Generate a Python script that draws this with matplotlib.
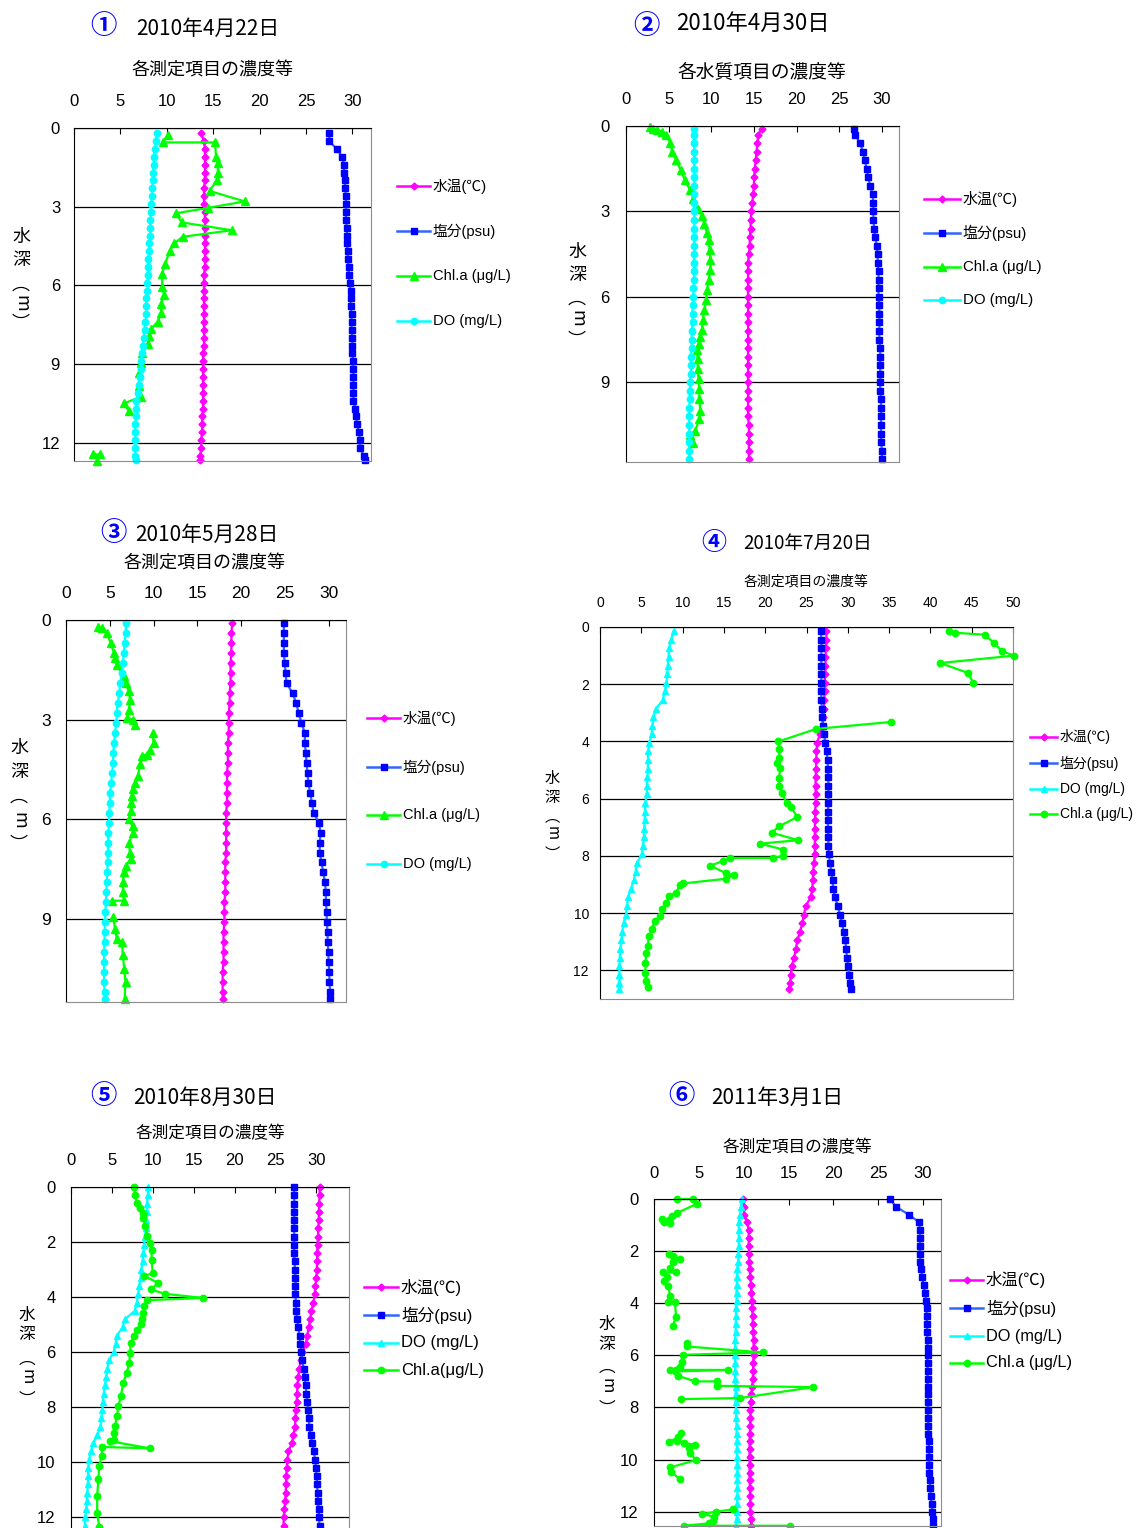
import matplotlib
matplotlib.use('Agg')
from matplotlib import pyplot
from matplotlib.lines import Line2D

nan = float('nan')
W, H = 1138, 1528
JP = ['Noto Sans CJK JP']
LAT = ['Liberation Sans', 'Noto Sans CJK JP']
pyplot.rcParams['font.family'] = LAT

# ---- 2010/4/22 ----
depth1 = [0.2, 0.5, 0.8, 1.1, 1.4, 1.7, 2.0, 2.3, 2.6, 2.9, 3.2, 3.5, 3.8, 4.1, 4.4, 4.7, 5.0, 5.3, 5.6, 5.9,
          6.2, 6.5, 6.8, 7.1, 7.4, 7.7, 8.0, 8.3, 8.6, 8.9, 9.2, 9.5, 9.8, 10.1, 10.4, 10.7, 11.0, 11.3, 11.6, 11.9,
          12.2, 12.5, 12.65]
temp1 = [13.7, 14.0, 14.1, 14.1, 14.1, 14.1, 14.1, 14.0, 14.0, 14.0, 14.1, 14.1, 14.1, 14.1, 14.1, 14.1, 14.1, 14.1, 14.0, 14.0,
         14.0, 14.0, 14.0, 14.0, 14.0, 14.0, 14.0, 14.0, 13.9, 13.9, 13.9, 13.9, 13.9, 13.9, 13.9, 13.9, 13.8, 13.8, 13.8, 13.7,
         13.7, 13.6, 13.6]
sal1 = [27.5, 27.5, 28.3, 28.9, 29.1, 29.1, 29.2, 29.2, 29.3, 29.3, 29.3, 29.3, 29.4, 29.4, 29.4, 29.5, 29.5, 29.6, 29.6, 29.7,
        29.8, 29.8, 29.8, 29.9, 29.9, 29.9, 30.0, 30.0, 30.0, 30.1, 30.1, 30.1, 30.1, 30.1, 30.1, 30.3, 30.4, 30.5, 30.7, 30.8,
        30.8, 31.2, 31.4]
do1 = [8.9, 8.8, 8.7, 8.6, 8.6, 8.5, 8.5, 8.4, 8.4, 8.3, 8.3, 8.2, 8.2, 8.2, 8.1, 8.1, 8.0, 8.0, 8.0, 7.9,
       7.9, 7.8, 7.8, 7.8, 7.7, 7.6, 7.5, 7.4, 7.3, 7.2, 7.2, 7.1, 7.0, 6.9, 6.7, 6.7, 6.7, 6.6, 6.6, 6.6,
       6.6, 6.6, 6.7]
chl1_depth = [0.25, 0.55, 0.55, 1.1, 1.35, 1.7, 2.0, 2.4, 2.8, 3.05, 3.25, 3.6, 3.9, 4.15, 4.4, 4.7, 5.2, 5.55, 6.05, 6.35,
              6.7, 7.05, 7.4, 7.65, 7.95, 8.25, 8.6, 8.95, 9.35, 9.85, 10.25, 10.5, 10.8, nan, 12.45, 12.45, 12.7]
chl1 = [10.1, 9.6, 15.2, 15.3, 15.5, 15.5, 15.4, 14.6, 18.4, 14.4, 11.0, 11.6, 17.0, 11.7, 10.8, 10.3, 9.8, 9.5, 9.5, 9.7,
        9.4, 9.4, 9.0, 8.3, 8.1, 8.0, 7.3, 7.2, 7.0, 7.0, 7.2, 5.4, 5.9, nan, 2.0, 2.8, 2.5]

# ---- 2010/4/30 ----
depth2 = [0.1, 0.3, 0.6, 0.9, 1.2, 1.5, 1.8, 2.1, 2.4, 2.7, 3.0, 3.3, 3.6, 3.9, 4.2, 4.5, 4.8, 5.1, 5.4, 5.7,
          6.0, 6.3, 6.6, 6.9, 7.2, 7.5, 7.8, 8.1, 8.4, 8.7, 9.0, 9.3, 9.6, 9.9, 10.2, 10.5, 10.8, 11.1, 11.4, 11.7]
temp2 = [15.9, 15.5, 15.4, 15.3, 15.2, 15.1, 15.0, 15.0, 14.9, 14.8, 14.7, 14.6, 14.6, 14.5, 14.5, 14.4, 14.3, 14.3, 14.3, 14.3,
         14.3, 14.3, 14.3, 14.3, 14.3, 14.3, 14.3, 14.3, 14.3, 14.3, 14.3, 14.3, 14.3, 14.3, 14.3, 14.4, 14.4, 14.4, 14.4, 14.4]
sal2 = [26.7, 26.9, 27.4, 27.8, 28.0, 28.2, 28.4, 28.6, 28.9, 29.0, 29.0, 29.0, 29.1, 29.2, 29.4, 29.5, 29.5, 29.6, 29.6, 29.6,
        29.6, 29.7, 29.7, 29.7, 29.7, 29.7, 29.8, 29.8, 29.8, 29.8, 29.8, 29.8, 29.9, 29.9, 29.9, 29.9, 29.9, 29.9, 30.0, 30.0]
do2 = [8.0, 8.0, 8.0, 8.0, 8.0, 8.0, 8.0, 8.0, 8.0, 8.0, 8.0, 8.0, 8.0, 8.0, 8.0, 8.0, 8.0, 8.0, 8.0, 7.9,
       7.9, 7.8, 7.8, 7.8, 7.7, 7.7, 7.7, 7.6, 7.6, 7.6, 7.5, 7.5, 7.5, 7.4, 7.4, 7.4, 7.4, 7.4, 7.4, 7.4]
chl2_depth = [0.05, 0.1, 0.15, 0.2, 0.3, 0.6, 0.9, 1.2, 1.55, 1.9, 2.25, 2.55, 2.9, 3.15, 3.45, 3.75, 4.0, 4.35, 4.7, 5.05,
              5.4, 5.75, 6.1, 6.45, 6.8, 7.15, 7.4, 7.65, 7.85, 8.2, 8.55, 8.9, 9.25, 9.6, 10.0, 10.3, 10.7, 10.85, 11.15]
chl2 = [2.85, 3.2, 3.6, 4.2, 4.7, 5.2, 5.4, 5.9, 6.4, 6.9, 7.5, 7.9, 8.4, 8.9, 9.2, 9.5, 9.7, 9.8, 9.9, 9.9,
        9.7, 9.5, 9.4, 9.2, 9.0, 8.9, 8.7, 8.5, 8.3, 8.4, 8.4, 8.5, 8.6, 8.6, 8.7, 8.6, 8.1, 7.5, 7.9]

# ---- 2010/5/28 ----
depth3 = [0.1, 0.4, 0.7, 1.0, 1.3, 1.6, 1.9, 2.2, 2.5, 2.8, 3.1, 3.4, 3.7, 4.0, 4.3, 4.6, 4.9, 5.2, 5.5, 5.8,
          6.1, 6.4, 6.7, 7.0, 7.3, 7.6, 7.9, 8.2, 8.5, 8.8, 9.1, 9.4, 9.7, 10.0, 10.3, 10.6, 10.9, 11.2, 11.4]
temp3 = [19.0, 18.9, 18.9, 18.9, 18.8, 18.8, 18.8, 18.7, 18.7, 18.6, 18.6, 18.6, 18.5, 18.5, 18.5, 18.4, 18.4, 18.4, 18.4, 18.3,
         18.3, 18.3, 18.3, 18.3, 18.2, 18.2, 18.2, 18.2, 18.1, 18.1, 18.1, 18.0, 18.0, 18.0, 18.0, 17.9, 17.9, 17.9, 17.9]
sal3 = [24.9, 24.9, 24.9, 24.9, 25.0, 25.1, 25.2, 25.9, 26.3, 26.6, 26.9, 27.3, 27.3, 27.4, 27.5, 27.6, 27.7, 27.9, 28.1, 28.3,
        28.9, 29.1, 29.0, 29.0, 29.2, 29.4, 29.6, 29.7, 29.7, 29.8, 29.8, 29.9, 29.9, 30.0, 30.0, 30.1, 30.1, 30.2, 30.2]
do3 = [6.9, 6.8, 6.7, 6.6, 6.5, 6.4, 6.2, 6.1, 5.9, 5.8, 5.75, 5.6, 5.5, 5.4, 5.35, 5.3, 5.15, 5.05, 5.0, 4.95,
       4.9, 4.85, 4.8, 4.8, 4.75, 4.7, 4.65, 4.6, 4.55, 4.5, 4.45, 4.4, 4.4, 4.35, 4.35, 4.35, 4.35, 4.4, 4.4]
chl3_depth = [0.2, 0.25, 0.4, 0.7, 1.0, 1.15, 1.35, 1.7, 1.9, 2.15, 2.4, 2.7, 2.95, 3.0, 3.15, nan, 3.4, 3.7, 3.9, 4.05,
              4.1, 4.35, 4.7, 4.9, 5.1, 5.3, 5.5, 5.75, 6.0, 6.2, 6.4, 6.7, 7.0, 7.2, 7.4, 7.6, 7.9, 8.2, 8.45, 8.45,
              nan, 8.95, 9.3, 9.6, 9.7, 10.1, 10.5, 10.9, 11.4]
chl3 = [3.7, 4.1, 4.7, 5.1, 5.5, 5.6, 5.8, 6.6, 6.8, 7.2, 7.3, 7.2, 7.0, 7.7, 7.9, nan, 9.9, 10.0, 9.6, 9.2,
        8.7, 8.5, 8.2, 7.9, 7.7, 7.5, 7.4, 7.4, 7.2, 7.6, 7.65, 7.2, 7.3, 7.4, 6.8, 6.6, 6.5, 6.5, 6.6, 5.25,
        nan, 5.4, 5.6, 5.8, 6.4, 6.5, 6.65, 6.8, 6.7]

# ---- 2010/7/20 ----
depth4 = [0.15, 0.45, 0.75, 1.05, 1.35, 1.65, 1.95, 2.25, 2.55, 2.85, 3.15, 3.45, 3.75, 4.05, 4.35, 4.65, 4.95, 5.25, 5.55, 5.85,
          6.15, 6.45, 6.75, 7.05, 7.35, 7.65, 7.95, 8.25, 8.55, 8.85, 9.15, 9.45, 9.75, 10.05, 10.35, 10.65, 10.95, 11.25, 11.55, 11.85,
          12.15, 12.45, 12.65]
temp4 = [27.4, 27.4, 27.35, 27.3, 27.3, 27.25, 27.2, 27.2, 27.15, 27.1, 27.05, 26.95, 26.6, 26.3, 26.2, 26.2, 26.15, 26.1, 26.1, 26.1,
         26.1, 26.05, 26.05, 26.0, 26.0, 26.0, 26.0, 25.9, 25.8, 25.75, 25.7, 25.5, 24.9, 24.7, 24.5, 24.2, 23.9, 23.7, 23.5, 23.2,
         23.1, 23.0, 22.9]
sal4 = [26.75, 26.8, 26.8, 26.8, 26.8, 26.8, 26.8, 26.8, 26.8, 26.85, 26.9, 26.95, 27.1, 27.3, 27.45, 27.55, 27.6, 27.65, 27.65, 27.65,
        27.65, 27.6, 27.6, 27.6, 27.65, 27.65, 27.7, 27.85, 28.0, 28.15, 28.25, 28.45, 28.8, 29.05, 29.3, 29.5, 29.7, 29.8, 29.9, 30.05,
        30.15, 30.3, 30.4]
do4 = [8.9, 8.6, 8.35, 8.3, 8.2, 8.15, 8.05, 7.85, 7.6, 6.8, 6.45, 6.35, 6.25, 5.95, 5.85, 5.8, 5.8, 5.75, 5.7, 5.65,
       5.5, 5.45, 5.4, 5.35, 5.3, 5.2, 5.05, 4.45, 4.3, 4.1, 3.75, 3.4, 3.25, 3.15, 2.85, 2.7, 2.6, 2.45, 2.4, 2.35,
       2.35, 2.35, 2.35]
chl4_depth = [0.13, 0.2, 0.27, 0.55, 0.85, 1.0, 1.26, 1.6, 1.95, nan, 3.32, 3.56, 4.0, 4.28, 4.57, 4.77, 4.92, 5.27, 5.56, 5.8,
              6.15, 6.29, 6.64, 6.96, 7.19, 7.45, 7.57, 7.78, 8.01, 8.07, 8.07, 8.18, 8.34, 8.61, 8.68, 8.8, 8.96, 9.0, 9.29, 9.41,
              9.64, 9.87, 10.1, 10.28, 10.57, 10.8, 11.15, 11.39, 11.73, 12.08, 12.37, 12.57]
chl4 = [42.3, 43.0, 46.6, 47.65, 48.7, 50.1, 41.2, 44.5, 45.2, nan, 35.2, 26.2, 21.6, 21.7, 21.7, 21.45, 21.8, 21.7, 21.7, 22.0,
        22.6, 23.1, 23.9, 21.7, 20.8, 24.0, 19.4, 22.2, 22.2, 20.9, 15.7, 14.9, 13.35, 15.3, 16.2, 15.2, 10.1, 9.7, 9.2, 8.4,
        8.0, 7.5, 7.3, 6.6, 6.3, 5.9, 5.8, 5.6, 5.5, 5.5, 5.6, 5.8]

# ---- 2010/8/30 ----
depth5 = [0.0, 0.3, 0.6, 0.9, 1.2, 1.5, 1.8, 2.1, 2.4, 2.7, 3.0, 3.3, 3.6, 3.9, 4.2, 4.5, 4.8, 5.1, 5.4, 5.7,
          6.0, 6.3, 6.6, 6.9, 7.2, 7.5, 7.8, 8.1, 8.4, 8.7, 9.0, 9.3, 9.6, 9.9, 10.2, 10.5, 10.8, 11.1, 11.4, 11.7,
          12.0, 12.3, 12.6]
temp5 = [30.4, 30.4, 30.35, 30.3, 30.3, 30.25, 30.2, 30.15, 30.1, 30.1, 30.05, 30.0, 29.9, 29.8, 29.65, 29.4, 29.25, 29.05, 28.9, 28.7,
         28.3, 28.1, 27.9, 27.8, 27.7, 27.65, 27.6, 27.5, 27.45, 27.4, 27.2, 27.0, 26.6, 26.45, 26.4, 26.3, 26.3, 26.25, 26.2, 26.1,
         26.0, 26.0, 25.95]
sal5 = [27.3, 27.3, 27.3, 27.3, 27.3, 27.3, 27.3, 27.3, 27.3, 27.35, 27.4, 27.45, 27.45, 27.45, 27.5, 27.55, 27.65, 27.8, 27.95, 28.05,
        28.15, 28.3, 28.45, 28.6, 28.7, 28.8, 28.9, 29.0, 29.1, 29.15, 29.3, 29.5, 29.7, 29.85, 29.95, 30.05, 30.1, 30.15, 30.2, 30.3,
        30.35, 30.4, 30.45]
do5 = [9.45, 9.4, 9.3, 9.3, 9.2, 9.15, 9.05, 8.95, 8.85, 8.75, 8.6, 8.5, 8.35, 8.2, 8.05, 7.8, 6.6, 6.3, 5.6, 5.45,
       5.2, 4.6, 4.45, 4.3, 4.15, 4.0, 3.9, 3.85, 3.7, 3.6, 3.2, 2.75, 2.45, 2.2, 2.1, 2.1, 2.05, 2.0, 1.95, 1.85,
       1.75, 1.7, 1.6]
chl5_depth = [0.0, 0.28, 0.58, 0.76, 0.94, 1.12, 1.43, 1.79, 2.03, 2.27, 2.64, 3.12, 3.24, 3.48, 3.72, 3.88, 4.03, 4.11, 4.33, 4.57,
              4.81, 4.99, 5.18, 5.42, 5.66, 6.02, 6.38, 6.75, 7.11, 7.59, 7.96, 8.32, 8.68, 8.92, 9.17, 9.23, 9.49, 9.44, 9.77, 10.13,
              10.62, 11.22, 11.83, 12.35, 12.6]
chl5 = [7.75, 7.85, 8.05, 8.45, 8.8, 8.8, 9.1, 9.35, 9.65, 9.85, 9.85, 10.0, 8.95, 10.7, 9.75, 11.5, 16.2, 9.25, 8.95, 8.8,
        8.65, 8.55, 8.05, 7.65, 7.35, 7.2, 7.15, 6.8, 6.4, 6.1, 5.8, 5.6, 5.4, 5.2, 5.2, 4.8, 9.65, 3.8, 3.75, 3.45,
        3.35, 3.2, 3.2, 3.45, 3.55]

# ---- 2011/3/1 ----
depth6 = [0.0, 0.3, 0.6, 0.9, 1.2, 1.5, 1.8, 2.1, 2.4, 2.7, 3.0, 3.3, 3.6, 3.9, 4.2, 4.5, 4.8, 5.1, 5.4, 5.7,
          6.0, 6.3, 6.6, 6.9, 7.2, 7.5, 7.8, 8.1, 8.4, 8.7, 9.0, 9.3, 9.6, 9.9, 10.2, 10.5, 10.8, 11.1, 11.4, 11.7,
          12.0, 12.3, 12.55]
temp6 = [9.9, 10.05, 10.05, 10.4, 10.55, 10.55, 10.55, 10.6, 10.6, 10.65, 10.75, 10.8, 10.85, 10.9, 10.95, 11.0, 11.0, 11.05, 11.1, 11.1,
         11.1, 11.05, 11.05, 11.0, 10.95, 10.85, 10.8, 10.75, 10.75, 10.7, 10.7, 10.65, 10.65, 10.65, 10.65, 10.65, 10.65, 10.7, 10.7, 10.75,
         10.75, 10.8, 10.85]
sal6 = [26.3, 27.0, 28.4, 29.6, 29.65, 29.65, 29.65, 29.65, 29.7, 29.8, 29.9, 30.05, 30.2, 30.35, 30.4, 30.4, 30.45, 30.45, 30.5, 30.5,
        30.5, 30.5, 30.5, 30.5, 30.5, 30.55, 30.55, 30.55, 30.55, 30.6, 30.6, 30.65, 30.65, 30.7, 30.7, 30.7, 30.75, 30.8, 30.85, 30.95,
        31.05, 31.1, 31.15]
do6 = [9.8, 9.7, 9.6, 9.45, 9.45, 9.45, 9.45, 9.4, 9.4, 9.3, 9.25, 9.25, 9.2, 9.2, 9.15, 9.15, 9.1, 9.1, 9.05, 9.05,
       9.05, 9.05, 9.05, 9.05, 9.1, 9.1, 9.1, 9.15, 9.15, 9.2, 9.2, 9.25, 9.25, 9.25, 9.3, 9.3, 9.3, 9.3, 9.3, 9.25,
       9.25, 9.2, 9.15]
chl6_depth = [0.0, 0.0, 0.18, 0.54, 0.67, 0.8, 0.77, 0.9, 0.92, nan,
              2.1, 2.2, 2.3, 2.43, 2.65, 2.82, 2.82, 3.0, 3.16, 3.35, 3.74, 3.97, 3.97, 4.51, 4.87, nan,
              5.53, 5.66, 5.89, 5.98, 6.27, 6.43, 6.56, 6.56, 6.62, 6.79, 7.0, 7.0, 7.17, 7.22, 7.64, 7.68, nan,
              8.99, 9.15, 9.31, 9.27, 9.35, 9.44, 9.57, 9.76, 10.02, 10.3, 10.46, 10.76, nan,
              11.91, 12.0, 12.09, 12.19, 12.37, 12.45, 12.54, 12.54]
chl6 = [2.6, 4.4, 4.8, 2.55, 2.0, 1.7, 0.85, 1.1, 1.8, nan,
        1.7, 2.15, 2.85, 2.1, 1.8, 2.45, 1.05, 1.5, 1.1, 1.6, 1.8, 1.6, 2.35, 2.45, 2.1, nan,
        3.65, 3.65, 12.2, 3.2, 3.1, 2.85, 1.8, 8.2, 2.35, 2.7, 4.6, 7.0, 7.0, 17.75, 9.6, 3.0, nan,
        3.0, 2.7, 1.7, 2.6, 3.3, 4.6, 3.95, 4.0, 4.7, 1.8, 1.95, 2.85, nan,
        8.8, 6.95, 5.35, 6.7, 6.55, 6.1, 3.3, 15.2]

# marker / line styles
TEMP = dict(color='#FF00FF', marker='D', ms=3.5, mfc='#FF00FF', mec='#FF00FF')
SAL = dict(color='#3366FF', marker='s', ms=4.6, mfc='#0000FF', mec='#0000FF')
CHL_TRI = dict(color='#00FF00', marker='^', ms=5.5, mfc='#00FF00', mec='#00FF00')
CHL_DOT = dict(color='#00FF00', marker='o', ms=4.6, mfc='#00FF00', mec='#00FF00')
DO_DOT = dict(color='#00FFFF', marker='o', ms=4.6, mfc='#00FFFF', mec='#00FFFF')
DO_TRI = dict(color='#00FFFF', marker='^', ms=5, mfc='#00FFFF', mec='#00FFFF')

fig = pyplot.figure(figsize=(W / 100, H / 100), dpi=100)


def fx(x):
    return x / W


def fy(y):
    return 1 - y / H


def draw_panel(box, xmax, xticks, ymax, yticks, series, fs, xpad, ypad):
    left, top, right, bottom = box
    ax = fig.add_axes([fx(left), fy(bottom), (right - left) / W, (bottom - top) / H])
    for xs, ys, st in series:
        ax.plot(xs, ys, lw=1.6, clip_on=False, **st)
    ax.set_xlim(0, xmax)
    ax.set_ylim(ymax, 0)
    ax.xaxis.tick_top()
    ax.set_xticks(xticks)
    ax.set_yticks(yticks)
    ax.tick_params(axis='x', direction='in', length=4, width=0.8, pad=xpad, labelsize=fs)
    ax.tick_params(axis='y', direction='in', length=0, pad=ypad, labelsize=fs)
    ax.yaxis.grid(True, color='black', lw=0.9)
    ax.set_axisbelow(True)
    for s in ['top', 'left']:
        ax.spines[s].set_color('black')
    for s in ['right', 'bottom']:
        ax.spines[s].set_color('#8c8c8c')
    return ax


def jp_text(x, y, s, fs, **kw):
    # CJK glyph boxes sit a little high, nudge them down
    fig.text(fx(x), fy(y + 2), s, fontsize=fs, family=JP, va='center', **kw)


def draw_titles(num, num_xy, num_fs, date, date_xy, date_fs, sub, sub_xy, sub_fs):
    jp_text(num_xy[0], num_xy[1], num, num_fs, color='#0000FF', ha='center', fontweight='bold')
    jp_text(date_xy[0], date_xy[1], date, date_fs, ha='left')
    jp_text(sub_xy[0], sub_xy[1], sub, sub_fs, ha='center')


def draw_ylabel(x, ys, fs):
    # 水 / 深 upright, then （m） written vertically
    jp_text(x, ys[0], '水', fs, ha='center')
    jp_text(x, ys[1], '深', fs, ha='center')
    jp_text(x, ys[2], '︵', fs, ha='center')
    fig.text(fx(x), fy(ys[3]), 'm', fontsize=fs, family=JP, ha='center', va='center', rotation=270)
    jp_text(x, ys[4], '︶', fs, ha='center')


def draw_legend(x0, x1, ys, entries, fs):
    for y, (label, st) in zip(ys, entries):
        fig.add_artist(Line2D([fx(x0), fx(x1)], [fy(y), fy(y)], transform=fig.transFigure,
                              color=st['color'], lw=1.8))
        fig.add_artist(Line2D([fx((x0 + x1) / 2)], [fy(y)], transform=fig.transFigure, ls='none',
                              marker=st['marker'], ms=st['ms'], mfc=st['mfc'], mec=st['mec']))
        fig.text(fx(x1 + 3), fy(y), label, fontsize=fs, ha='left', va='center')


x30 = [0, 5, 10, 15, 20, 25, 30]
x50 = [0, 5, 10, 15, 20, 25, 30, 35, 40, 45, 50]

# panel 1
draw_panel((74, 128, 371, 461), 32, x30, 12.7, [0, 3, 6, 9, 12],
           [(temp1, depth1, TEMP), (sal1, depth1, SAL), (chl1, chl1_depth, CHL_TRI), (do1, depth1, DO_DOT)],
           12, 14, 10)
draw_titles('①', (103, 25), 19, '2010年4月22日', (136, 27), 15, '各測定項目の濃度等', (213, 69), 13)
draw_ylabel(21, [235, 258, 283, 303, 322], 13)
draw_legend(397, 430, [186, 231, 276, 321],
            [('水温(℃)', TEMP), ('塩分(psu)', SAL), ('Chl.a (μg/L)', CHL_TRI), ('DO (mg/L)', DO_DOT)], 10.6)

# panel 2
draw_panel((626, 126, 899, 462), 32, x30, 11.8, [0, 3, 6, 9],
           [(temp2, depth2, TEMP), (sal2, depth2, SAL), (chl2, chl2_depth, CHL_TRI), (do2, depth2, DO_DOT)],
           12, 14, 12)
draw_titles('②', (646, 24), 19, '2010年4月30日', (676, 21), 16, '各水質項目の濃度等', (762, 70), 13.5)
draw_ylabel(577, [250, 273, 297, 318, 339], 13)
draw_legend(924, 960, [199, 233, 267, 300],
            [('水温(℃)', TEMP), ('塩分(psu)', SAL), ('Chl.a (μg/L)', CHL_TRI), ('DO (mg/L)', DO_DOT)], 10.8)

# panel 3
draw_panel((66, 620, 346, 1002), 32, x30, 11.5, [0, 3, 6, 9],
           [(temp3, depth3, TEMP), (sal3, depth3, SAL), (chl3, chl3_depth, CHL_TRI), (do3, depth3, DO_DOT)],
           12.5, 14, 11)
draw_titles('③', (113, 532), 19, '2010年5月28日', (135, 533), 15, '各測定項目の濃度等', (205, 562), 13)
draw_ylabel(19, [746, 770, 795, 820, 843], 13)
draw_legend(367, 400, [718, 767, 815, 864],
            [('水温(℃)', TEMP), ('塩分(psu)', SAL), ('Chl.a (μg/L)', CHL_TRI), ('DO (mg/L)', DO_DOT)], 10.5)

# panel 4
draw_panel((600, 627, 1013, 999), 50, x50, 13.0, [0, 2, 4, 6, 8, 10, 12],
           [(temp4, depth4, TEMP), (sal4, depth4, SAL), (do4, depth4, DO_TRI), (chl4, chl4_depth, CHL_DOT)],
           10, 12, 8)
draw_titles('④', (714, 541), 18, '2010年7月20日', (743, 541), 13.5, '各測定項目の濃度等', (806, 580), 10)
draw_ylabel(552, [776, 795, 815, 833, 852], 11)
draw_legend(1030, 1057, [737, 763, 789, 814],
            [('水温(℃)', TEMP), ('塩分(psu)', SAL), ('DO (mg/L)', DO_TRI), ('Chl.a (μg/L)', CHL_DOT)], 10)

# panel 5
draw_panel((71, 1187, 349, 1545), 34, x30, 13.0, [0, 2, 4, 6, 8, 10, 12],
           [(temp5, depth5, TEMP), (sal5, depth5, SAL), (do5, depth5, DO_TRI), (chl5, chl5_depth, CHL_DOT)],
           12, 14, 11)
draw_titles('⑤', (103, 1095), 19, '2010年8月30日', (133, 1096), 15, '各測定項目の濃度等', (210, 1132), 12)
draw_ylabel(27, [1313, 1333, 1357, 1377, 1398], 12)
draw_legend(364, 398, [1287, 1315, 1343, 1370],
            [('水温(℃)', TEMP), ('塩分(psu)', SAL), ('DO (mg/L)', DO_TRI), ('Chl.a(μg/L)', CHL_DOT)], 12)

# panel 6
draw_panel((654, 1199, 941, 1526), 32, x30, 12.55, [0, 2, 4, 6, 8, 10, 12],
           [(temp6, depth6, TEMP), (sal6, depth6, SAL), (do6, depth6, DO_TRI), (chl6, chl6_depth, CHL_DOT)],
           12, 13, 11)
draw_titles('⑥', (681, 1095), 19, '2011年3月1日', (711, 1096), 15, '各測定項目の濃度等', (797, 1146), 12)
draw_ylabel(607, [1322, 1342, 1365, 1386, 1407], 12)
draw_legend(950, 983, [1280, 1308, 1336, 1363],
            [('水温(℃)', TEMP), ('塩分(psu)', SAL), ('DO (mg/L)', DO_TRI), ('Chl.a (μg/L)', CHL_DOT)], 11.8)

pyplot.savefig('out.png', dpi=100)
